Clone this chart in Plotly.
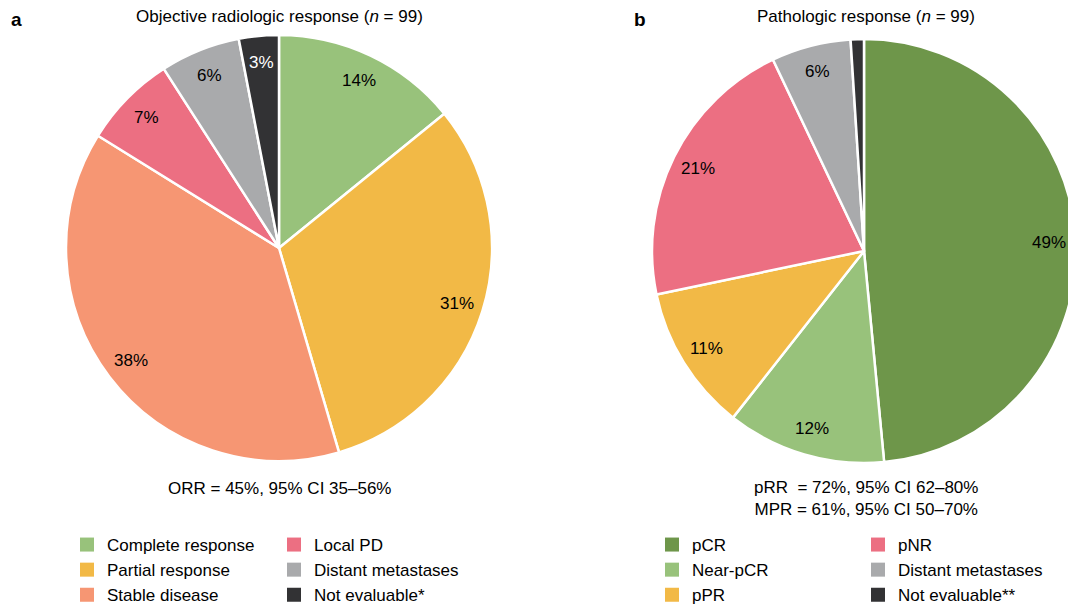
import math
import plotly.graph_objects as go

# The page body has a default 8px margin; lay the figure out in window pixels
# and convert to figure coordinates.
WIN_W, WIN_H = 1076, 613
OFF = 8
FW, FH = WIN_W - OFF, WIN_H - OFF
FONT = "Liberation Sans, Arial, Helvetica, sans-serif"

# ---------------- data ----------------
resp_labels = ["Complete response", "Partial response", "Stable disease",
               "Local PD", "Distant metastases", "Not evaluable*"]
resp_counts = [14, 31, 38, 7, 6, 3]
resp_text = ["14%", "31%", "38%", "7%", "6%", "3%"]

path_labels = ["pCR", "Near-pCR", "pPR", "pNR", "Distant metastases", "Not evaluable**"]
path_counts = [48, 12, 11, 21, 6, 1]
path_text = ["49%", "12%", "11%", "21%", "6%", ""]

resp_title = "Objective radiologic response (<i>n</i> = 99)"
path_title = "Pathologic response (<i>n</i> = 99)"
resp_note = "ORR = 45%, 95% CI 35–56%"
path_note = "pRR\u00a0\u00a0= 72%, 95% CI 62–80%<br>MPR = 61%, 95% CI 50–70%"

# ---------------- styles ----------------
C_LGREEN = "#98c27b"
C_DGREEN = "#6e964a"
C_YELLOW = "#f2b946"
C_SALMON = "#f69673"
C_PINK = "#ec6f82"
C_GRAY = "#a9aaac"
C_DARK = "#323234"

resp_colors = [C_LGREEN, C_YELLOW, C_SALMON, C_PINK, C_GRAY, C_DARK]
path_colors = [C_DGREEN, C_LGREEN, C_YELLOW, C_PINK, C_GRAY, C_DARK]
resp_txtcol = ["black", "black", "black", "black", "black", "white"]
path_txtcol = ["black", "black", "black", "black", "black", "white"]

# pie geometry (window pixels)
left_dom_px = dict(x=(66, 492), y=(35, 461))
right_dom_px = dict(x=(652, 1076), y=(39, 463))


def fx(px):
    return (px - OFF) / FW


def fy(py):
    return 1 - (py - OFF) / FH


def px_dom(d):
    return dict(x=[fx(d["x"][0]), fx(d["x"][1])],
                y=[fy(d["y"][1]), fy(d["y"][0])])


fig = go.Figure()

for labels, counts, colors, dpx in [(resp_labels, resp_counts, resp_colors, left_dom_px),
                                     (path_labels, path_counts, path_colors, right_dom_px)]:
    fig.add_trace(go.Pie(
        labels=labels, values=counts, sort=False, direction="clockwise", rotation=0,
        marker=dict(colors=colors, line=dict(color="white", width=2.5)),
        textinfo="none", hoverinfo="skip", showlegend=False, domain=px_dom(dpx),
    ))

annotations = []


def slice_labels(counts, texts, txtcols, dpx, frac=0.873):
    cx = (dpx["x"][0] + dpx["x"][1]) / 2
    cy = (dpx["y"][0] + dpx["y"][1]) / 2
    R = min(dpx["x"][1] - dpx["x"][0], dpx["y"][1] - dpx["y"][0]) / 2
    tot = sum(counts)
    cum = 0
    for c, t, tc in zip(counts, texts, txtcols):
        mid = (cum + c / 2) / tot * 2 * math.pi
        cum += c
        if not t:
            continue
        x = cx + frac * R * math.sin(mid)
        y = cy - frac * R * math.cos(mid)
        annotations.append(dict(x=fx(x), y=fy(y), xref="paper", yref="paper",
                                xanchor="center", yanchor="middle",
                                text=t, showarrow=False,
                                font=dict(family=FONT, size=17, color=tc)))


slice_labels(resp_counts, resp_text, resp_txtcol, left_dom_px)
slice_labels(path_counts, path_text, path_txtcol, right_dom_px)


def text_at(px, py, text, size=17, bold=False, xanchor="center"):
    annotations.append(dict(x=fx(px), y=fy(py), xref="paper", yref="paper",
                            text=f"<b>{text}</b>" if bold else text, showarrow=False,
                            xanchor=xanchor, yanchor="middle", align="center",
                            font=dict(family=FONT, size=size, color="black")))


text_at(279, 17, resp_title)
text_at(866, 17, path_title)
text_at(9, 19, "a", size=19, bold=True, xanchor="left")
text_at(632, 19, "b", size=19, bold=True, xanchor="left")
text_at(279, 488, resp_note)
text_at(866, 498, path_note)

# legends (4 columns); legend box left edge in window px
legend_cols = [
    ("legend", resp_labels[:3], resp_colors[:3], 67),
    ("legend2", resp_labels[3:], resp_colors[3:], 274),
    ("legend3", path_labels[:3], path_colors[:3], 652),
    ("legend4", path_labels[3:], path_colors[3:], 858),
]
LEG_TOP = 527
legend_layouts = {}
for lg, labs, cols, lx in legend_cols:
    for lab, col in zip(labs, cols):
        fig.add_trace(go.Scatter(
            x=[None], y=[None], mode="markers", name=lab, legend=lg,
            marker=dict(symbol="square", size=14, color=col, line=dict(width=0)),
            hoverinfo="skip",
        ))
    legend_layouts[lg] = dict(
        x=fx(lx), y=fy(LEG_TOP), xanchor="left", yanchor="top",
        orientation="v", bgcolor="rgba(0,0,0,0)", borderwidth=0,
        font=dict(family=FONT, size=17, color="black"), itemsizing="trace",
        itemclick=False, itemdoubleclick=False, tracegroupgap=0,
    )

fig.update_layout(
    width=FW, height=FH,
    margin=dict(l=0, r=0, t=0, b=0, pad=0, autoexpand=False),
    paper_bgcolor="white", plot_bgcolor="white",
    xaxis=dict(visible=False), yaxis=dict(visible=False),
    annotations=annotations,
    showlegend=True,
    **legend_layouts,
)

fig.write_html("out.html")
